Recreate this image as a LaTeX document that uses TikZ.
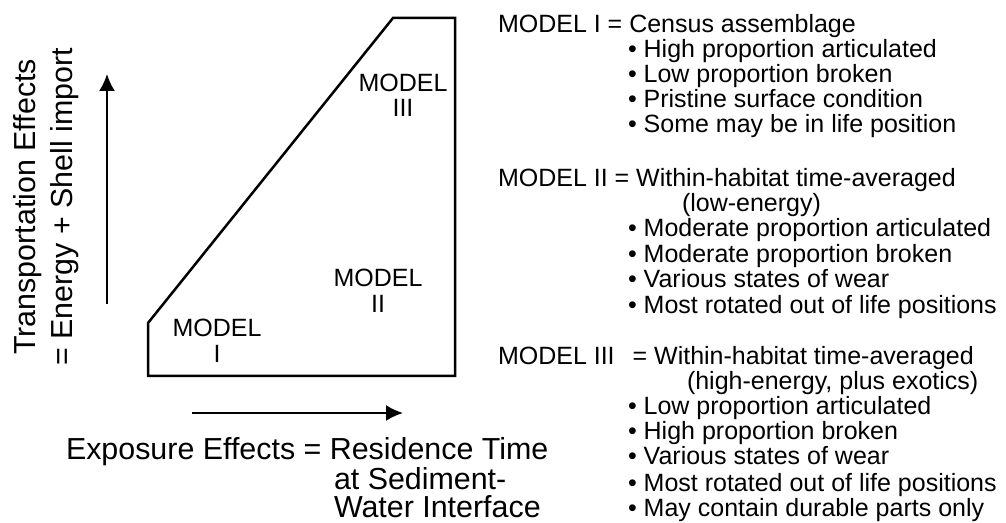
\documentclass[tikz,border=0pt]{standalone}
\usepackage{fontspec}
\setmainfont{Liberation Sans}
\usetikzlibrary{arrows.meta}

\begin{document}
\begin{tikzpicture}[>={Latex[length=17bp,width=16bp]},line join=bevel,
  axislabel/.style={font=\fontsize{30.4bp}{32bp}\selectfont,inner sep=0pt},
  zone/.style={font=\fontsize{25bp}{26bp}\selectfont,inner sep=0pt,anchor=base},
  legend/.style={font=\fontsize{25bp}{26bp}\selectfont,inner sep=0pt,anchor=base west}]
  \useasboundingbox (0bp,0bp) rectangle (1006bp,523bp);
  \pgfsetlinewidth{2bp}
%%
\pgfsetcolor{black}
  % Region: the three models
  \draw [line width=2.5bp,line join=miter] (148bp,147bp) -- (148bp,200bp) -- (393bp,505bp) -- (455bp,505bp) -- (455bp,147bp) -- cycle;
  % Edge: transport axis
  \coordinate (ytail) at (107bp,219bp);
  \coordinate (yhead) at (107bp,449bp);
  \draw [->] (ytail) -- (yhead);
  % Edge: exposure axis
  \coordinate (xtail) at (192bp,110bp);
  \coordinate (xhead) at (403bp,110bp);
  \draw [->] (xtail) -- (xhead);
  % Node: axis labels
  \node (ylabA) [axislabel,rotate=90,anchor=base] at (35bp,316bp) {Transportation Effects};
  \node (ylabB) [axislabel,rotate=90,anchor=base] at (72bp,316bp) {= Energy + Shell import};
  \node (xlabA) [axislabel,anchor=base west] at (65bp,63bp) {Exposure Effects = Residence Time};
  \node (xlabB) [axislabel,anchor=base west] at (333bp,34bp) {at Sediment-};
  \node (xlabC) [axislabel,anchor=base west] at (333bp,6bp) {Water Interface};
  % Node: zones
  \node (zoneI) [zone] at (217bp,186bp) {MODEL};
  \node (zoneIn) [zone] at (217bp,160bp) {I};
  \node (zoneII) [zone] at (378bp,236bp) {MODEL};
  \node (zoneIIn) [zone] at (378bp,210bp) {II};
  \node (zoneIII) [zone] at (403bp,431bp) {MODEL};
  \node (zoneIIIn) [zone] at (403bp,406bp) {III};
  % Node: model I
  \node (modI) [legend] at (497bp,490bp) {MODEL I = Census assemblage};
  \node (modIa) [legend] at (627bp,465bp) {• High proportion articulated};
  \node (modIb) [legend] at (627bp,440bp) {• Low proportion broken};
  \node (modIc) [legend] at (627bp,415bp) {• Pristine surface condition};
  \node (modId) [legend] at (627bp,390bp) {• Some may be in life position};
  % Node: model II
  \node (modII) [legend] at (497bp,336bp) {MODEL II = Within-habitat time-averaged};
  \node (modIIx) [legend] at (681bp,311bp) {(low-energy)};
  \node (modIIa) [legend] at (627bp,286bp) {• Moderate proportion articulated};
  \node (modIIb) [legend] at (627bp,260bp) {• Moderate proportion broken};
  \node (modIIc) [legend] at (627bp,235bp) {• Various states of wear};
  \node (modIId) [legend] at (627bp,209bp) {• Most rotated out of life positions};
  % Node: model III
  \node (modIII) [legend] at (497bp,158bp) {MODEL III\hspace{11bp} = Within-habitat time-averaged};
  \node (modIIIx) [legend] at (686bp,133bp) {(high-energy, plus exotics)};
  \node (modIIIa) [legend] at (627bp,108bp) {• Low proportion articulated};
  \node (modIIIb) [legend] at (627bp,83bp) {• High proportion broken};
  \node (modIIIc) [legend] at (627bp,58bp) {• Various states of wear};
  \node (modIIId) [legend] at (627bp,32bp) {• Most rotated out of life positions};
  \node (modIIIe) [legend] at (627bp,7bp) {• May contain durable parts only};
%
\end{tikzpicture}
\end{document}
